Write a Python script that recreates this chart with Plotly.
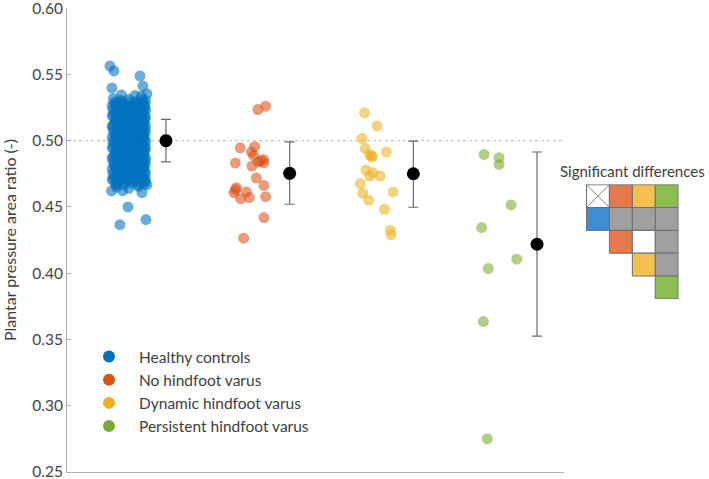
import plotly.graph_objects as go

# ---------------- data ----------------
groups = ["Healthy controls", "No hindfoot varus", "Dynamic hindfoot varus", "Persistent hindfoot varus"]
colors = ["#0072BD", "#D95319", "#EDB120", "#77AC30"]

hc_values = [
    0.5563, 0.5526, 0.5488, 0.5413, 0.5353, 0.5398, 0.4500, 0.4366, 0.4404, 0.4607, 0.4667, 0.4620, 0.4622,
    0.5318, 0.5305, 0.5312, 0.5296, 0.5309, 0.5301,
    0.5272, 0.5281, 0.5265, 0.5277, 0.5269, 0.5284,
    0.5234, 0.5228, 0.5241, 0.5225, 0.5237, 0.5230,
    0.5192, 0.5185, 0.5198, 0.5189, 0.5195, 0.5181,
    0.5153, 0.5147, 0.5158, 0.5144, 0.5151, 0.5160,
    0.5112, 0.5106, 0.5118, 0.5103, 0.5109, 0.5115,
    0.5071, 0.5066, 0.5078, 0.5063, 0.5075, 0.5069,
    0.5032, 0.5027, 0.5038, 0.5024, 0.5035, 0.5029,
    0.4993, 0.4987, 0.4998, 0.4984, 0.4995, 0.4989,
    0.4952, 0.4946, 0.4958, 0.4943, 0.4955, 0.4949,
    0.4913, 0.4907, 0.4918, 0.4904, 0.4915, 0.4909,
    0.4872, 0.4866, 0.4878, 0.4863, 0.4875, 0.4869,
    0.4833, 0.4827, 0.4838, 0.4824, 0.4835, 0.4829,
    0.4792, 0.4786, 0.4798, 0.4783, 0.4795, 0.4789,
    0.4753, 0.4747, 0.4758, 0.4744, 0.4755, 0.4749,
    0.4712, 0.4706, 0.4718, 0.4703, 0.4715, 0.4709,
    0.4673, 0.4667, 0.4678, 0.4664, 0.4675, 0.4669,
    0.5251, 0.5248, 0.5253, 0.5246, 0.5250,
    0.5171, 0.5168, 0.5173, 0.5166, 0.5170,
    0.5091, 0.5088, 0.5093, 0.5086, 0.5090,
    0.5011, 0.5008, 0.5013, 0.5006, 0.5010,
    0.4931, 0.4928, 0.4933, 0.4926, 0.4930,
    0.4851, 0.4848, 0.4853, 0.4846, 0.4850,
    0.4771, 0.4768, 0.4773, 0.4766, 0.4770,
    0.4691, 0.4688, 0.4693, 0.4686, 0.4690,
    0.5291, 0.5288, 0.5294, 0.5286, 0.5290,
    0.5211, 0.5208, 0.5214, 0.5206, 0.5210,
    0.5131, 0.5128, 0.5134, 0.5126, 0.5130,
    0.5051, 0.5048, 0.5054, 0.5046, 0.5050,
    0.4971, 0.4968, 0.4974, 0.4966, 0.4970,
    0.4891, 0.4888, 0.4894, 0.4886, 0.4890,
    0.4811, 0.4808, 0.4814, 0.4806, 0.4810,
    0.4731, 0.4728, 0.4734, 0.4726, 0.4730,
    0.5266, 0.5263, 0.5268, 0.5261, 0.5265,
    0.5186, 0.5183, 0.5188, 0.5181, 0.5185,
    0.5106, 0.5103, 0.5108, 0.5101, 0.5105,
    0.5026, 0.5023, 0.5028, 0.5021, 0.5025,
    0.4946, 0.4943, 0.4948, 0.4941, 0.4945,
    0.4866, 0.4863, 0.4868, 0.4861, 0.4865,
    0.4786, 0.4783, 0.4788, 0.4781, 0.4785,
    0.4706, 0.4703, 0.4708, 0.4701, 0.4705,
    0.5345, 0.5340, 0.5336, 0.4650, 0.4640, 0.4655,
]
hc_jitter = [
    -0.453, -0.420, -0.210, -0.186, -0.154, -0.437, -0.307, -0.372, -0.162, -0.194, -0.154, -0.440, -0.350,
    -0.425, -0.365, -0.300, -0.245, -0.190, -0.165,
    -0.410, -0.345, -0.285, -0.225, -0.175, -0.395,
    -0.430, -0.355, -0.315, -0.260, -0.200, -0.165,
    -0.425, -0.365, -0.300, -0.245, -0.190, -0.165,
    -0.410, -0.345, -0.285, -0.225, -0.175, -0.395,
    -0.430, -0.355, -0.315, -0.260, -0.200, -0.165,
    -0.425, -0.365, -0.300, -0.245, -0.190, -0.165,
    -0.410, -0.345, -0.285, -0.225, -0.175, -0.395,
    -0.430, -0.355, -0.315, -0.260, -0.200, -0.165,
    -0.425, -0.365, -0.300, -0.245, -0.190, -0.165,
    -0.410, -0.345, -0.285, -0.225, -0.175, -0.395,
    -0.430, -0.355, -0.315, -0.260, -0.200, -0.165,
    -0.425, -0.365, -0.300, -0.245, -0.190, -0.165,
    -0.410, -0.345, -0.285, -0.225, -0.175, -0.395,
    -0.430, -0.355, -0.315, -0.260, -0.200, -0.165,
    -0.425, -0.365, -0.300, -0.245, -0.190, -0.165,
    -0.410, -0.345, -0.285, -0.225, -0.175, -0.395,
    -0.390, -0.330, -0.270, -0.210, -0.170,
    -0.390, -0.330, -0.270, -0.210, -0.170,
    -0.390, -0.330, -0.270, -0.210, -0.170,
    -0.390, -0.330, -0.270, -0.210, -0.170,
    -0.390, -0.330, -0.270, -0.210, -0.170,
    -0.390, -0.330, -0.270, -0.210, -0.170,
    -0.390, -0.330, -0.270, -0.210, -0.170,
    -0.390, -0.330, -0.270, -0.210, -0.170,
    -0.415, -0.355, -0.295, -0.235, -0.180,
    -0.415, -0.355, -0.295, -0.235, -0.180,
    -0.415, -0.355, -0.295, -0.235, -0.180,
    -0.415, -0.355, -0.295, -0.235, -0.180,
    -0.415, -0.355, -0.295, -0.235, -0.180,
    -0.415, -0.355, -0.295, -0.235, -0.180,
    -0.415, -0.355, -0.295, -0.235, -0.180,
    -0.415, -0.355, -0.295, -0.235, -0.180,
    -0.435, -0.375, -0.315, -0.255, -0.200,
    -0.435, -0.375, -0.315, -0.255, -0.200,
    -0.435, -0.375, -0.315, -0.255, -0.200,
    -0.435, -0.375, -0.315, -0.255, -0.200,
    -0.435, -0.375, -0.315, -0.255, -0.200,
    -0.435, -0.375, -0.315, -0.255, -0.200,
    -0.435, -0.375, -0.315, -0.255, -0.200,
    -0.435, -0.375, -0.315, -0.255, -0.200,
    -0.360, -0.250, -0.200, -0.400, -0.300, -0.220,
]

nhv_values = [0.5235, 0.5260, 0.4946, 0.4954, 0.4914, 0.4888, 0.4831, 0.4808, 0.4839, 0.4858, 0.4833,
              0.4718, 0.4662, 0.4645, 0.4607, 0.4613, 0.4562, 0.4570, 0.4577, 0.4419, 0.4264, 0.4630, 0.4848]
nhv_jitter = [-0.256, -0.194, -0.399, -0.283, -0.310, -0.291, -0.439, -0.305, -0.256, -0.210, -0.208,
              -0.269, -0.208, -0.431, -0.450, -0.350, -0.396, -0.326, -0.194, -0.208, -0.372, -0.437, -0.234]

dhv_values = [0.5210, 0.5110, 0.5016, 0.4941, 0.4891, 0.4876, 0.4914, 0.4778, 0.4758, 0.4733, 0.4733,
              0.4675, 0.4602, 0.4550, 0.4613, 0.4482, 0.4324, 0.4289, 0.4885]
dhv_jitter = [-0.394, -0.294, -0.415, -0.388, -0.353, -0.334, -0.218, -0.383, -0.326, -0.353, -0.267,
              -0.428, -0.409, -0.361, -0.164, -0.234, -0.186, -0.180, -0.334]

phv_values = [0.4896, 0.4871, 0.4820, 0.4515, 0.4344, 0.4105, 0.4035, 0.3634, 0.2750]
phv_jitter = [-0.428, -0.307, -0.307, -0.210, -0.447, -0.164, -0.394, -0.434, -0.402]

means = [0.5000, 0.4753, 0.4750, 0.4218]
upper = [0.5160, 0.4991, 0.4997, 0.4914]
lower = [0.4840, 0.4520, 0.4497, 0.3524]
reference_value = 0.50

y_ticks = [0.25, 0.30, 0.35, 0.40, 0.45, 0.50, 0.55, 0.60]

# significance matrix: 0 empty, 1 cross, 2 blue, 3 orange, 4 yellow, 5 green, 6 gray(significant), 7 white(ns)
sig_matrix = [
    [1, 3, 4, 5],
    [2, 6, 6, 6],
    [0, 3, 7, 6],
    [0, 0, 4, 6],
    [0, 0, 0, 5],
]
sig_colors = {2: "#3d8dd0", 3: "#e67a4a", 4: "#f1c24f", 5: "#8dbe52", 6: "#a0a0a0", 7: "#ffffff", 1: "#ffffff"}

# ---------------- figure ----------------
FONT = "Lato, 'Open Sans', sans-serif"
TXT = "#404040"
fig = go.Figure()

all_vals = [hc_values, nhv_values, dhv_values, phv_values]
all_jit = [hc_jitter, nhv_jitter, dhv_jitter, phv_jitter]
for i, (vals, jit) in enumerate(zip(all_vals, all_jit)):
    pos = i + 1
    fig.add_trace(go.Scatter(
        x=[pos + j for j in jit], y=vals, mode="markers",
        marker=dict(size=11, color=colors[i], opacity=0.58, line=dict(width=0)),
        showlegend=False, hoverinfo="y"))

fig.add_trace(go.Scatter(
    x=[1, 2, 3, 4], y=means, mode="markers",
    marker=dict(size=13, color="black"),
    error_y=dict(type="data", symmetric=False,
                 array=[u - m for u, m in zip(upper, means)],
                 arrayminus=[m - l for m, l in zip(means, lower)],
                 color="#6a6a6a", thickness=1.2, width=5),
    showlegend=False))

for g, c in zip(groups, colors):
    fig.add_trace(go.Scatter(x=[None], y=[None], mode="markers", name=g,
                             marker=dict(size=13, color=c)))

fig.add_shape(type="line", xref="x domain", yref="y", x0=0, x1=1,
              y0=reference_value, y1=reference_value,
              line=dict(color="#bdbdbd", width=1, dash="dot"), layer="below")

# significance grid on its own axes
for r, row in enumerate(sig_matrix):
    for c, code in enumerate(row):
        if code == 0:
            continue
        fig.add_trace(go.Scatter(
            x=[c, c + 1, c + 1, c, c], y=[r, r, r + 1, r + 1, r],
            mode="lines", fill="toself", fillcolor=sig_colors[code],
            line=dict(color="#6e6e6e", width=1), xaxis="x2", yaxis="y2",
            showlegend=False, hoverinfo="skip"))
        if code == 1:
            fig.add_trace(go.Scatter(
                x=[c, c + 1, None, c, c + 1], y=[r, r + 1, None, r + 1, r],
                mode="lines", line=dict(color="#8a8a8a", width=1),
                xaxis="x2", yaxis="y2", showlegend=False, hoverinfo="skip"))

L, R, T, B = 67, 20, 8, 7
W, H = 709, 479
pw = W - L - R
ph = H - T - B
main_right = (564 - L) / pw

fig.update_layout(
    width=W, height=H,
    margin=dict(l=L, r=R, t=T, b=B, autoexpand=False),
    paper_bgcolor="white", plot_bgcolor="white",
    font=dict(family=FONT, color=TXT, size=15),
    xaxis=dict(domain=[0, main_right], range=[0.2, 4.218], showgrid=False, zeroline=False,
               showticklabels=False, ticks="", showline=True, linecolor="#b0b0b0", linewidth=1,
               automargin=False),
    yaxis=dict(range=[0.2499, 0.6001], tickvals=y_ticks, tickformat=".2f", showgrid=False,
               zeroline=False, showline=True, linecolor="#b0b0b0", linewidth=1,
               ticks="inside", ticklen=4, tickcolor="#b0b0b0", automargin=False,
               ticklabeloverflow="allow",
               tickfont=dict(size=15.5, color="#444444", family=FONT),
               title=dict(text="Plantar pressure area ratio (-)", standoff=11,
                          font=dict(size=16, color=TXT, family=FONT))),
    xaxis2=dict(domain=[(586 - L) / pw, (678.7 - L) / pw], range=[-0.02, 4.02],
                visible=False, anchor="y2", fixedrange=True),
    yaxis2=dict(domain=[(H - B - 299.3) / ph, (H - B - 184.3) / ph], range=[5.02, -0.02],
                visible=False, anchor="x2", fixedrange=True),
    legend=dict(x=(79 - L) / pw, y=(H - B - 340) / ph, xanchor="left", yanchor="top",
                bgcolor="rgba(0,0,0,0)", font=dict(size=15.5, color=TXT, family=FONT),
                itemsizing="constant", itemwidth=50),
    annotations=[dict(text="Significant differences", xref="paper", yref="paper",
                      x=(632 - L) / pw, y=(H - B - 171) / ph, xanchor="center", yanchor="middle",
                      showarrow=False, font=dict(size=15, color=TXT, family=FONT))],
)

fig.write_html(
    "out.html",
    config={"displayModeBar": False},
    post_script="document.body.style.margin='0';document.body.style.overflow='hidden';",
)
